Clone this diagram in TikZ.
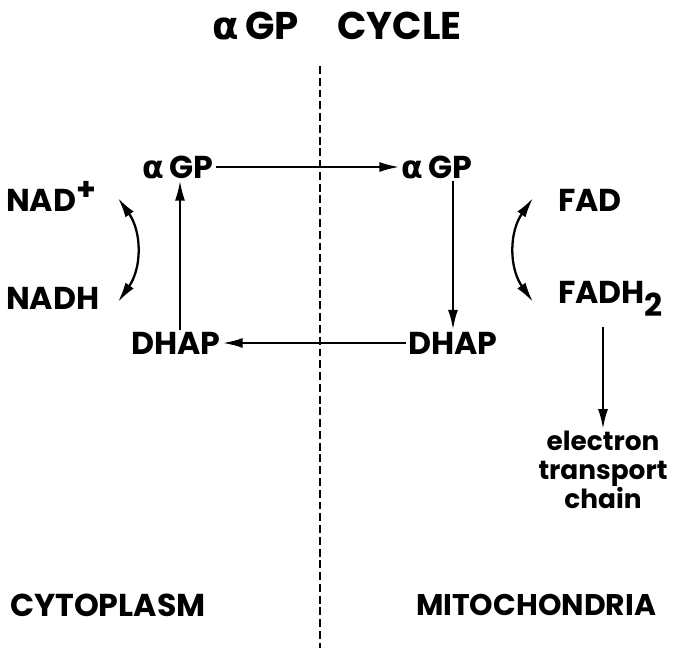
\documentclass[tikz,border=0pt]{standalone}
\usepackage{fontspec}
\setmainfont{Poppins}
\newfontfamily\greekfont{DejaVu Sans}
\usetikzlibrary{arrows.meta}
\tikzset{
  lbl/.style={font=\bfseries\fontsize{18}{20}\selectfont,inner sep=1pt},
  small/.style={font=\bfseries\fontsize{15}{16.5}\selectfont,align=center,inner sep=1pt},
  rxn/.style={-{Latex[length=4mm,width=2mm]},line width=1.3pt},
  swap/.style={{Latex[length=4mm,width=2mm]}-{Latex[length=4mm,width=2mm]},line width=1.3pt},
}
\newcommand{\agp}{{\greekfont\bfseries α}\,GP}
\begin{document}
\begin{tikzpicture}[x=0.02cm,y=-0.02cm]
  \useasboundingbox (0,0) rectangle (676,648);
  % title and membrane
  \node[lbl,font=\bfseries\fontsize{22}{24}\selectfont] (title) at (337,26){\agp\quad CYCLE};
  \coordinate (mtop) at (320,66);
  \coordinate (mbot) at (320,648);
  \draw[line width=1.3pt,dash pattern=on 4.5pt off 2.2pt] (mtop)--(mbot);

  % ===== cytoplasm side =====
  \node[lbl] (gpc) at (178,167){\agp};
  \node[lbl] (dhapc) at (176,343){DHAP};
  \node[lbl,anchor=west] (nadp) at (4,196){NAD$^{\textbf{+}}$};
  \node[lbl,anchor=west] (nadh) at (4,298){NADH};
  \coordinate (nt) at (118,198);
  \coordinate (nb) at (118,302);
  \draw[swap] (nt) .. controls (142,232) and (142,268) .. (nb);
  \draw[rxn] (dhapc.north -| 180,0) -- (gpc.south -| 180,0);

  % ===== mitochondria side =====
  \node[lbl] (gpm) at (437,167){\agp};
  \node[lbl] (dhapm) at (453,343){DHAP};
  \node[lbl,anchor=west] (fad) at (556,200){FAD};
  \node[lbl,anchor=west] (fadh) at (556,299){FADH$_{\textbf{2}}$};
  \coordinate (ft) at (533,198);
  \coordinate (fb) at (533,302);
  \draw[swap] (ft) .. controls (509,232) and (509,268) .. (fb);
  \draw[rxn] (gpm.south -| 453,0) -- (dhapm.north -| 453,0);
  \node[small] (etc) at (603,470){electron\\transport\\chain};
  \draw[rxn] (fadh.south -| 603,0) ++(0,8) -- (etc.north -| 603,0);

  % transport across the membrane
  \draw[rxn] (gpc.east) -- (gpm.west);
  \draw[rxn] (dhapm.west) -- (dhapc.east);

  % compartments
  \node[lbl,anchor=west] (cyto) at (8,605){CYTOPLASM};
  \node[lbl,anchor=west,font=\bfseries\fontsize{17}{20}\selectfont] (mito) at (414,605){MITOCHONDRIA};
\end{tikzpicture}
\end{document}
